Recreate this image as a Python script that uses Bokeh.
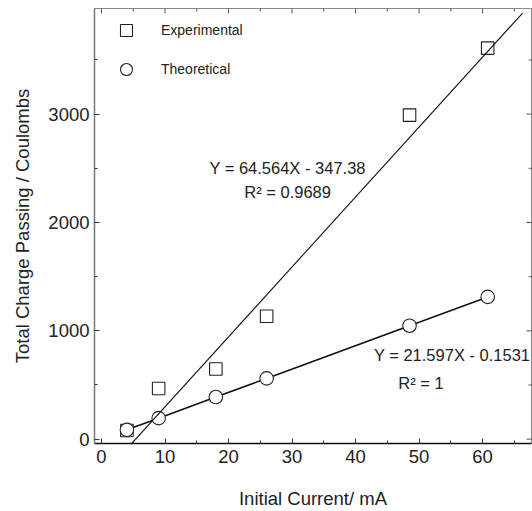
from bokeh.plotting import figure
from bokeh.models import Range1d, SingleIntervalTicker, Label, Legend, LegendItem
from bokeh.embed import file_html
from bokeh.resources import INLINE

# ---- data ----
current_ma = [4, 9, 18, 26, 48.5, 60.8]
experimental = [80, 468, 648, 1134, 2991, 3609]
theoretical = [86, 194, 389, 561, 1047, 1313]

exp_slope, exp_intercept = 64.564, -347.38
exp_fit_x = [4.7, 66.3]

exp_eq = "Y = 64.564X - 347.38"
exp_r2 = "R\u00b2 = 0.9689"
theo_eq = "Y = 21.597X - 0.1531"
theo_r2 = "R\u00b2 = 1"

x_major_ticks = [0, 10, 20, 30, 40, 50, 60]
x_minor_ticks = [5, 15, 25, 35, 45, 55, 65]
y_major_ticks = [0, 1000, 2000, 3000]
y_minor_ticks = [500, 1500, 2500, 3500]

X_START, X_END = -1.1, 67.7
Y_START, Y_END = -40, 3975

FONT = "Liberation Sans"
TXT = "#222222"

p = figure(width=532, height=511,
           x_range=Range1d(X_START, X_END), y_range=Range1d(Y_START, Y_END),
           output_backend="svg", toolbar_location=None,
           min_border_left=94, min_border_right=1,
           min_border_top=8, min_border_bottom=65)
p.grid.visible = False
p.outline_line_color = "#888888"
p.background_fill_color = "white"
p.border_fill_color = "white"

xa = p.xaxis[0]
xa.ticker = SingleIntervalTicker(interval=10, num_minor_ticks=2)
ya = p.yaxis[0]
ya.ticker = SingleIntervalTicker(interval=1000, num_minor_ticks=2)
for ax in (xa, ya):
    ax.major_tick_in = 5
    ax.major_tick_out = 0
    ax.minor_tick_in = 3
    ax.minor_tick_out = 0
    ax.major_label_text_font = FONT
    ax.major_label_text_font_size = "18.5px"
    ax.major_label_text_color = TXT
    ax.axis_label_text_font = FONT
    ax.axis_label_text_font_size = "18.5px"
    ax.axis_label_text_font_style = "normal"
    ax.axis_label_text_color = TXT
    ax.major_tick_line_color = "#333333"
    ax.minor_tick_line_color = "#333333"
xa.axis_label = "Initial Current/ mA"
ya.axis_label = "Total Charge Passing / Coulombs"
xa.axis_line_color = "#111111"
xa.axis_line_width = 1.5
ya.axis_line_color = "#777777"
ya.axis_line_width = 1.5
xa.major_label_standoff = 6
ya.major_label_standoff = 5
xa.axis_label_standoff = 22
ya.axis_label_standoff = 12

# inward ticks on the top and right frame edges
p.ray(x=x_major_ticks, y=[Y_END] * len(x_major_ticks), length=5, angle=-90,
      angle_units="deg", length_units="screen", line_color="#555555")
p.ray(x=x_minor_ticks, y=[Y_END] * len(x_minor_ticks), length=3, angle=-90,
      angle_units="deg", length_units="screen", line_color="#555555")
p.ray(x=[X_END] * len(y_major_ticks), y=y_major_ticks, length=5, angle=180,
      angle_units="deg", length_units="screen", line_color="#555555")
p.ray(x=[X_END] * len(y_minor_ticks), y=y_minor_ticks, length=3, angle=180,
      angle_units="deg", length_units="screen", line_color="#555555")

# experimental squares
r_exp = p.scatter(current_ma, experimental, marker="square", size=12.5,
                  fill_color="white", line_color="#222222", line_width=1.1)
# theoretical line + circles
p.line(current_ma, theoretical, line_color="#111111", line_width=1.6)
r_theo = p.scatter(current_ma, theoretical, marker="circle", size=13.5,
                   fill_color="white", line_color="#222222", line_width=1.1)
# experimental linear fit
fit_y = [exp_slope * x + exp_intercept for x in exp_fit_x]
p.line(exp_fit_x, fit_y, line_color="#111111", line_width=1.1)

# equations
for txt, x, y in [(exp_eq, 29.3, 2500), (exp_r2, 29.3, 2280),
                  (theo_eq, 55.2, 776), (theo_r2, 50.3, 520)]:
    p.add_layout(Label(x=x, y=y, text=txt, text_align="center",
                       text_baseline="middle", text_font=FONT,
                       text_font_size="16.5px", text_color=TXT))

legend = Legend(items=[LegendItem(label="Experimental", renderers=[r_exp]),
                       LegendItem(label="Theoretical", renderers=[r_theo])],
                location=(17, 359), glyph_width=30, glyph_height=30,
                label_height=30, spacing=9, padding=5, margin=0,
                border_line_color=None, background_fill_alpha=0,
                label_standoff=20, label_text_font=FONT,
                label_text_font_size="14px", label_text_color=TXT)
p.add_layout(legend)

open("out.html", "w").write(file_html(p, INLINE))
